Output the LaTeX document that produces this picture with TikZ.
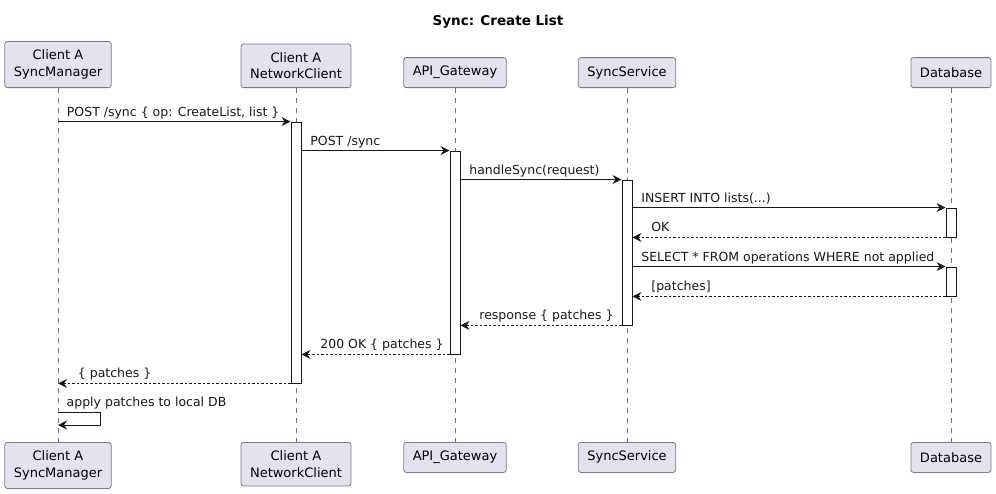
\documentclass[tikz,border=0pt]{standalone}
\usepackage{fontspec}
\setmainfont{DejaVu Sans}
\usetikzlibrary{arrows.meta,positioning,calc}
\definecolor{partfill}{HTML}{E2E2F0}
\definecolor{partline}{HTML}{7A7A85}
\definecolor{ink}{HTML}{181818}
\tikzset{
  partbox/.style={draw=partline, fill=partfill, rounded corners=2.5pt, align=center,
    font=\fontsize{13}{16.5}\selectfont, inner xsep=9pt, inner ysep=8.5pt, minimum height=30pt, line width=0.8pt},
  actbar/.style={draw=ink, fill=white, minimum width=10pt, inner sep=0pt, line width=0.9pt},
  lifeline/.style={draw=black!55, dash pattern=on 5pt off 5pt, line width=0.6pt},
  msg/.style={draw=ink, line width=0.9pt, -{Stealth[length=9pt,width=9pt,inset=3pt]}},
  retmsg/.style={msg, dash pattern=on 2.5pt off 2pt},
  msglabel/.style={font=\fontsize{12.5}{15}\selectfont, inner sep=1.5pt, text=ink},
  calllabel/.style={msglabel, pos=0, anchor=base west, xshift=7pt, yshift=5.5pt},
  replylabel/.style={msglabel, pos=1, anchor=base west, xshift=17pt, yshift=5.5pt}
}
\begin{document}
\begin{tikzpicture}[x=1pt, y=-1pt]
  \useasboundingbox (0,0) rectangle (996,493);
  \node[font=\fontsize{13.5}{16}\selectfont\bfseries] (title) at (498,22) {Sync: Create List};

  % participants, top row and bottom row
  \node[partbox, anchor=south] (smTop) at (58,88) {Client A\\SyncManager};
  \node[partbox, anchor=south] (ncTop) at (296,88) {Client A\\NetworkClient};
  \node[partbox, anchor=south] (gwTop) at (455,88) {API\_Gateway};
  \node[partbox, anchor=south] (ssTop) at (627,88) {SyncService};
  \node[partbox, anchor=south] (dbTop) at (951,88) {Database};
  \node[partbox, anchor=north] (smBot) at (58,442) {Client A\\SyncManager};
  \node[partbox, anchor=north] (ncBot) at (296,442) {Client A\\NetworkClient};
  \node[partbox, anchor=north] (gwBot) at (455,442) {API\_Gateway};
  \node[partbox, anchor=north] (ssBot) at (627,442) {SyncService};
  \node[partbox, anchor=north] (dbBot) at (951,442) {Database};

  \foreach \p in {sm,nc,gw,ss,db}
    \draw[lifeline] (\p Top.south) -- (\p Bot.north);

  % activations
  \node[actbar, minimum height=261pt] (actNC) at (296,252.5) {};
  \node[actbar, minimum height=203pt] (actGW) at (455,252.5) {};
  \node[actbar, minimum height=145pt] (actSS) at (627,252.5) {};
  \node[actbar, minimum height=29pt] (actDBa) at (951,222.5) {};
  \node[actbar, minimum height=29pt] (actDBb) at (951,281.5) {};

  % calls
  \draw[msg] (smTop |- actNC.north) -- (actNC.north west)
    node[calllabel] {POST /sync \{ op: CreateList, list \}};
  \draw[msg] (actNC.east |- actGW.north) -- (actGW.north west)
    node[calllabel] {POST /sync};
  \draw[msg] (actGW.east |- actSS.north) -- (actSS.north west)
    node[calllabel] {handleSync(request)};
  \draw[msg] (actSS.east |- actDBa.north) -- (actDBa.north west)
    node[calllabel] {INSERT INTO lists(...)};
  \draw[retmsg] (actDBa.south west) -- (actSS.east |- actDBa.south)
    node[replylabel] {OK};
  \draw[msg] (actSS.east |- actDBb.north) -- (actDBb.north west)
    node[calllabel] {SELECT * FROM operations WHERE not applied};
  \draw[retmsg] (actDBb.south west) -- (actSS.east |- actDBb.south)
    node[replylabel] {[patches]};

  % replies
  \draw[retmsg] (actSS.south west) -- (actGW.east |- actSS.south)
    node[replylabel] {response \{ patches \}};
  \draw[retmsg] (actGW.south west) -- (actNC.east |- actGW.south)
    node[replylabel] {200 OK \{ patches \}};
  \draw[retmsg] (actNC.south west) -- (smTop |- actNC.south)
    node[replylabel, xshift=1pt] {\{ patches \}};

  % self call
  \coordinate (apply) at (smTop |- 0,412);
  \draw[msg] (apply) -- ++(42,0) -- ++(0,13) -- ++(-42,0);
  \node[msglabel, anchor=base west, xshift=7pt, yshift=5.5pt] (applyLbl) at (apply) {apply patches to local DB};
\end{tikzpicture}
\end{document}
